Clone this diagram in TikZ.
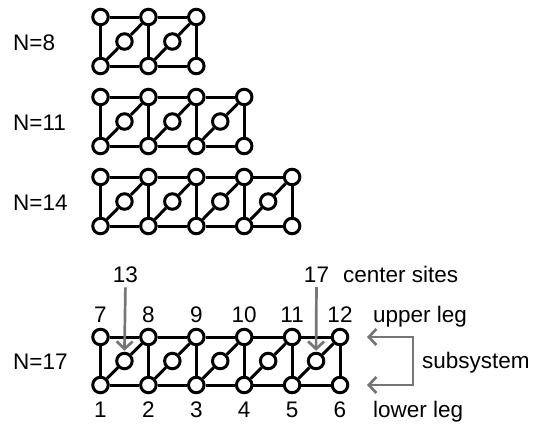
\documentclass[tikz,border=0pt]{standalone}
\usepackage{fontspec}
\setmainfont{Liberation Sans}
\usetikzlibrary{arrows.meta}
\definecolor{arrowgray}{RGB}{118,118,118}
\begin{document}
\begin{tikzpicture}[x=1pt,y=-1pt,
  site/.style={circle,draw=black,fill=white,line width=3pt,inner sep=0pt,minimum size=15.5pt},
  bond/.style={line width=3pt,draw=black},
  lbl/.style={font=\fontsize{22.5}{26}\selectfont,inner sep=0pt,anchor=base},
  lblw/.style={font=\fontsize{22.5}{26}\selectfont,inner sep=0pt,anchor=base west},
  garrow/.style={draw=arrowgray,line width=2.7pt,-{Straight Barb[length=7.5pt,width=16pt]}},
  gbrack/.style={draw=arrowgray,line width=2.7pt,{Straight Barb[length=7.5pt,width=16pt]}-{Straight Barb[length=7.5pt,width=16pt]}}]
\useasboundingbox (0,0) rectangle (540,423);
% ladders: name / number of cells / top y / bottom y
\foreach \nm/\cells/\yt/\yb in {A/2/17/66, B/3/97/146, C/4/177/226, D/5/337/385}{
  \pgfmathtruncatemacro{\ncol}{\cells+1}
  \foreach \i in {1,...,\ncol}{
    \node[site] (\nm t\i) at ({100.5+47.9*(\i-1)},\yt) {};
    \node[site] (\nm b\i) at ({100.5+47.9*(\i-1)},\yb) {};
  }
  \foreach \i in {1,...,\cells}{
    \node[site] (\nm c\i) at ({100.5+47.9*(\i-0.5)},{(\yt+\yb)/2}) {};
  }
  \foreach \i in {1,...,\cells}{
    \pgfmathtruncatemacro{\j}{\i+1}
    \draw[bond] (\nm t\i) -- (\nm t\j);
    \draw[bond] (\nm b\i) -- (\nm b\j);
    \draw[bond] (\nm b\i) -- (\nm c\i);
    \draw[bond] (\nm c\i) -- (\nm t\j);
  }
  \foreach \i in {1,...,\ncol}{
    \draw[bond] (\nm t\i) -- (\nm b\i);
  }
}
% system size labels
\node[lblw] (nA) at (13,50) {N=8};
\node[lblw] (nB) at (13,130) {N=11};
\node[lblw] (nC) at (13,210) {N=14};
\node[lblw] (nD) at (13,369.5) {N=17};
% site numbers
\foreach \i/\up in {1/7,2/8,3/9,4/10,5/11,6/12}{
  \node[lbl] (up\i) at ({100.5+47.9*(\i-1)},322) {\up};
  \node[lbl] (lo\i) at ({100.5+47.9*(\i-1)},417) {\i};
}
\node[lbl] (l13) at (125.5,282) {13};
\node[lbl] (l17) at (316.5,282) {17};
\node[lblw] (cs) at (343,282) {center sites};
\node[lblw] (ul) at (373,322) {upper leg};
\node[lblw] (ll) at (373,417) {lower leg};
\node[lblw] (ss) at (422,368.5) {subsystem};
% arrows to center sites
\draw[garrow,shorten <=5pt,shorten >=1pt] (l13.south) -- (Dc1.north);
\draw[garrow,shorten <=5pt,shorten >=1pt] (l17.south) -- (Dc5.north);
% subsystem bracket
\coordinate (bt) at (367,337);
\coordinate (bb) at (367,385);
\draw[gbrack] (bt) -- (413,337) -- (413,385) -- (bb);
\end{tikzpicture}
\end{document}
